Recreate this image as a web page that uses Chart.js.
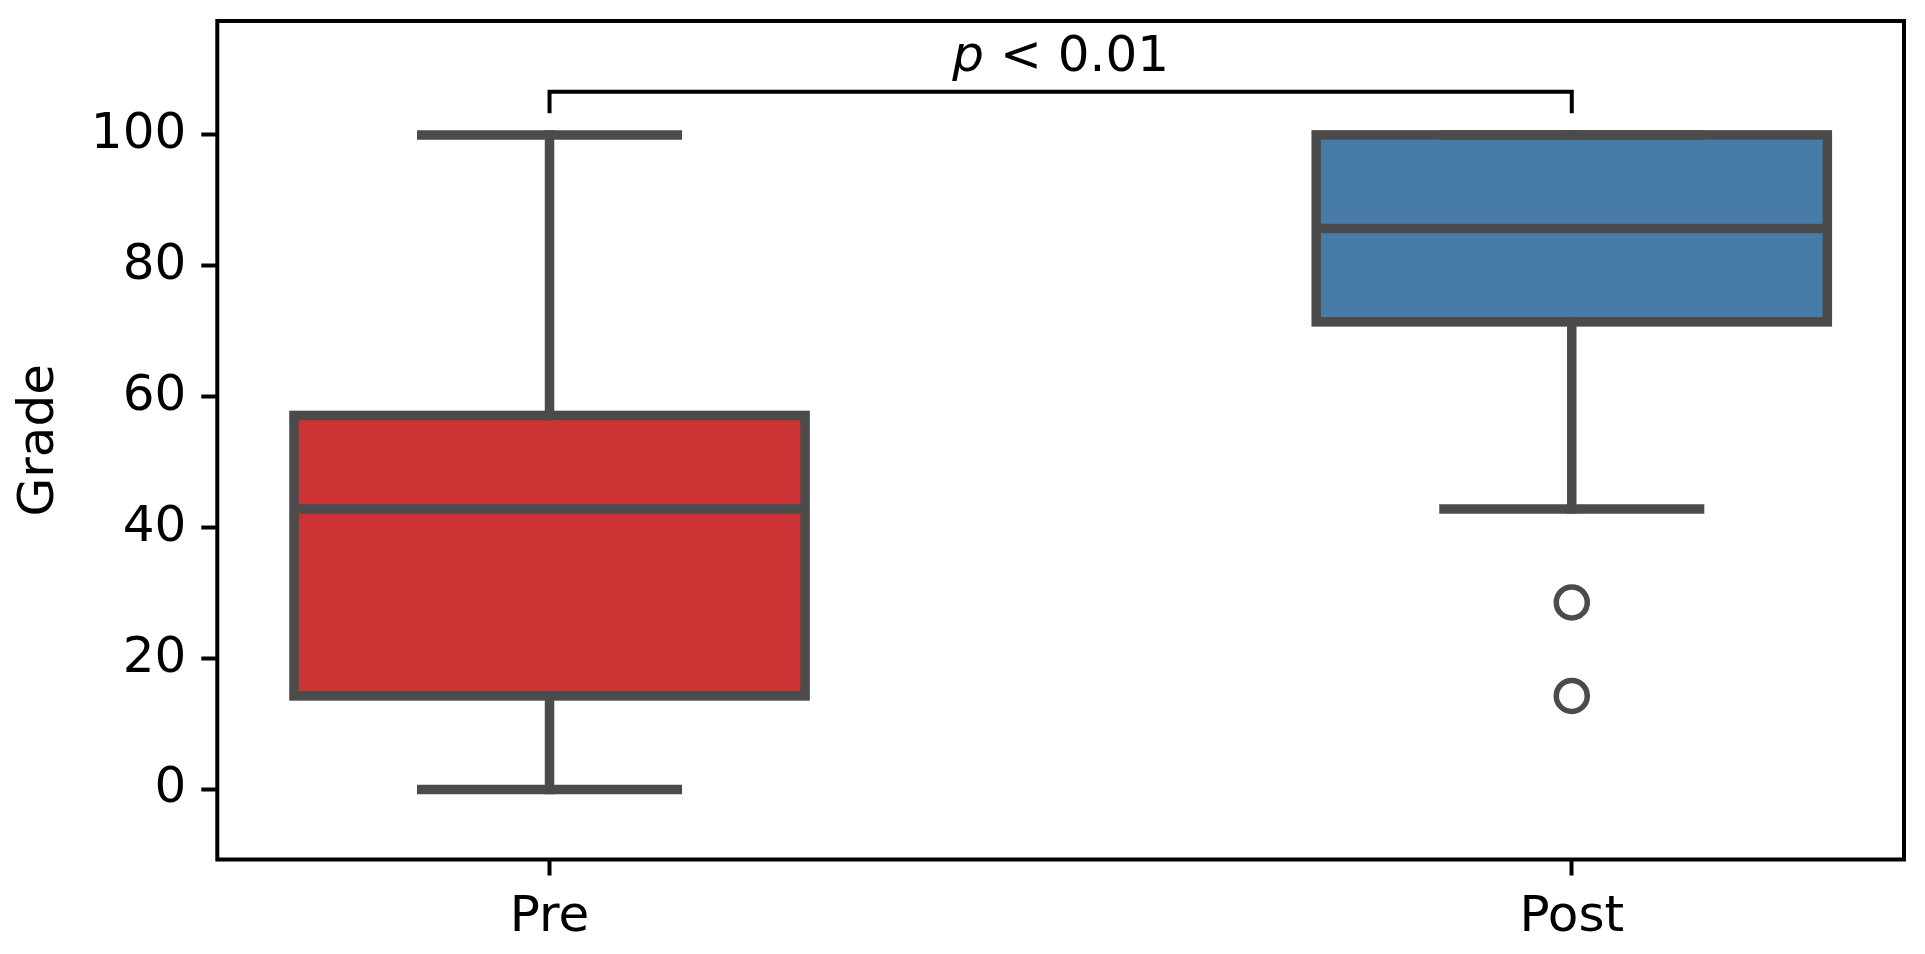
<!DOCTYPE html>
<html>
<head>
<meta charset="utf-8">
<script src="https://cdn.jsdelivr.net/npm/chart.js@4"></script>
<style>
  html, body { margin: 0; padding: 0; background: #fff; overflow: hidden; }
  canvas { display: block; }
</style>
</head>
<body>
<canvas id="chart" width="1925" height="954"></canvas>
<script>
// box plot stats, grade in %
const groups = ['Pre', 'Post'];
const whiskerLow = [0, 42.86];
const q1 = [14.29, 71.43];
const median = [42.86, 85.71];
const q3 = [57.14, 100];
const whiskerHigh = [100, 100];
const outlierGroup = [1, 1];
const outlierValues = [28.57, 14.29];
const yTicks = [0, 20, 40, 60, 80, 100];
const fills = ['#cb3335', '#477ba8'];

// significance bracket between the two groups
const bracketLow = 103.3;
const bracketHigh = 106.6;
const pText = 'p < 0.01';

const FONT = 'DejaVu Sans';
const LINE = '#4b4b4b';
const LW = 9.5;

const boxPlugin = {
  id: 'boxPlugin',
  afterDatasetsDraw(chart) {
    const ctx = chart.ctx;
    const x = chart.scales.x;
    const y = chart.scales.y;
    const meta = chart.getDatasetMeta(0);
    ctx.save();
    ctx.strokeStyle = LINE;
    ctx.lineWidth = LW;

    groups.forEach((g, i) => {
      const bar = meta.data[i].getProps(['x', 'y', 'base', 'width'], true);
      const left = bar.x - bar.width / 2;
      const right = bar.x + bar.width / 2;
      const cx = x.getPixelForValue(i);
      const capHalf = bar.width / 4;

      // whiskers
      ctx.lineCap = 'square';
      ctx.beginPath();
      ctx.moveTo(cx, y.getPixelForValue(q1[i]));
      ctx.lineTo(cx, y.getPixelForValue(whiskerLow[i]));
      ctx.moveTo(cx, y.getPixelForValue(q3[i]));
      ctx.lineTo(cx, y.getPixelForValue(whiskerHigh[i]));
      ctx.stroke();
      ctx.beginPath();
      ctx.moveTo(cx - capHalf, y.getPixelForValue(whiskerLow[i]));
      ctx.lineTo(cx + capHalf, y.getPixelForValue(whiskerLow[i]));
      ctx.moveTo(cx - capHalf, y.getPixelForValue(whiskerHigh[i]));
      ctx.lineTo(cx + capHalf, y.getPixelForValue(whiskerHigh[i]));
      ctx.stroke();

      // box outline
      ctx.lineJoin = 'miter';
      ctx.strokeRect(left, bar.y, right - left, bar.base - bar.y);

      // median
      ctx.lineCap = 'butt';
      const my = y.getPixelForValue(median[i]);
      ctx.beginPath();
      ctx.moveTo(left, my);
      ctx.lineTo(right, my);
      ctx.stroke();
    });

    // bracket + p value
    const x0 = x.getPixelForValue(0);
    const x1 = x.getPixelForValue(1);
    const yl = y.getPixelForValue(bracketLow);
    const yh = y.getPixelForValue(bracketHigh);
    ctx.strokeStyle = '#000';
    ctx.lineWidth = 4;
    ctx.lineCap = 'butt';
    ctx.lineJoin = 'miter';
    ctx.beginPath();
    ctx.moveTo(x0, yl);
    ctx.lineTo(x0, yh);
    ctx.lineTo(x1, yh);
    ctx.lineTo(x1, yl);
    ctx.stroke();

    const [pv, ...rest] = pText.split(' ');
    const restText = ' ' + rest.join(' ');
    ctx.fillStyle = '#000';
    ctx.textBaseline = 'alphabetic';
    ctx.textAlign = 'left';
    ctx.font = 'italic 50px "' + FONT + '"';
    const w1 = ctx.measureText(pv).width;
    ctx.font = '50px "' + FONT + '"';
    const w2 = ctx.measureText(restText).width;
    const startX = (x0 + x1) / 2 - (w1 + w2) / 2;
    const ty = yh - 21;
    ctx.font = 'italic 50px "' + FONT + '"';
    ctx.fillText(pv, startX, ty);
    ctx.font = '50px "' + FONT + '"';
    ctx.fillText(restText, startX + w1, ty);

    // axes frame
    const a = chart.chartArea;
    ctx.strokeStyle = '#000';
    ctx.lineWidth = 4;
    ctx.strokeRect(a.left, a.top, a.right - a.left, a.bottom - a.top);
    ctx.restore();
  }
};

new Chart(document.getElementById('chart'), {
  type: 'bar',
  data: {
    datasets: [
      {
        type: 'bar',
        data: groups.map((g, i) => ({ x: i, y: [q1[i], q3[i]] })),
        backgroundColor: fills,
        borderWidth: 0,
        barPercentage: 0.5,
        categoryPercentage: 1,
      },
      {
        type: 'scatter',
        data: outlierValues.map((v, k) => ({ x: outlierGroup[k], y: v })),
        pointRadius: 15.5,
        pointBorderWidth: 5.5,
        pointBackgroundColor: 'rgba(0,0,0,0)',
        pointBorderColor: LINE,
      },
    ],
  },
  options: {
    responsive: false,
    devicePixelRatio: 1,
    animation: false,
    layout: { padding: { left: 0, top: 20.5, right: 18, bottom: 0 } },
    plugins: { legend: { display: false }, tooltip: { enabled: false } },
    scales: {
      x: {
        type: 'linear',
        min: -0.325,
        max: 1.325,
        offset: false,
        afterBuildTicks: (s) => { s.ticks = groups.map((g, i) => ({ value: i })); },
        afterFit: (s) => { s.height = 94.5; s.paddingLeft = 0; s.paddingRight = 0; },
        border: { display: false },
        grid: { offset: false, drawOnChartArea: false, drawTicks: true, tickLength: 16, tickWidth: 4, tickColor: '#000', color: '#000' },
        ticks: {
          callback: (v) => groups[v] ?? '',
          font: { family: FONT, size: 50 },
          color: '#000',
          padding: 13,
          maxRotation: 0,
          autoSkip: false,
        },
      },
      y: {
        min: -10.7,
        max: 117.4,
        afterBuildTicks: (s) => { s.ticks = yTicks.map((v) => ({ value: v })); },
        afterFit: (s) => { s.width = 217.3; s.paddingTop = 0; s.paddingBottom = 0; },
        border: { display: false },
        grid: { drawOnChartArea: false, drawTicks: true, tickLength: 16, tickWidth: 4, tickColor: '#000', color: '#000' },
        ticks: {
          font: { family: FONT, size: 50 },
          color: '#000',
          padding: 15,
        },
        title: {
          display: true,
          text: 'Grade',
          font: { family: FONT, size: 50 },
          color: '#000',
          padding: { top: 10, bottom: 0 },
        },
      },
    },
  },
  plugins: [boxPlugin],
});
</script>
</body>
</html>
